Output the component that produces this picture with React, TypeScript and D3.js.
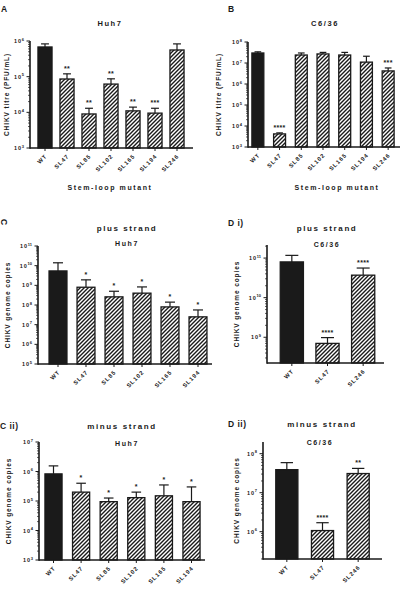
import React from 'react';
import * as d3 from 'd3';

// data
const titreCats = ['WT', 'SL47', 'SL85', 'SL102', 'SL165', 'SL194', 'SL246'];
const huh7Titre = [6.8e5, 8.6e4, 9e3, 6.2e4, 1.1e4, 9.5e3, 5.6e5];
const huh7TitreErr = [8.3e5, 1.2e5, 1.3e4, 8.7e4, 1.4e4, 1.3e4, 8.3e5];
const huh7TitreStars = ['', '**', '**', '**', '**', '***', ''];

const c636Titre = [3e7, 4.2e3, 2.4e7, 2.7e7, 2.4e7, 1.1e7, 4.2e6];
const c636TitreErr = [3.4e7, 4.7e3, 3e7, 3.2e7, 3.2e7, 2.1e7, 5.8e6];
const c636TitreStars = ['', '****', '', '', '', '', '***'];

const huh7Cats = ['WT', 'SL47', 'SL85', 'SL102', 'SL165', 'SL194'];
const huh7Plus = [5.4e9, 8e8, 2.6e8, 4e8, 8e7, 2.5e7];
const huh7PlusErr = [1.4e10, 1.9e9, 5e8, 8.3e8, 1.4e8, 5.6e7];
const huh7PlusStars = ['', '*', '*', '*', '*', '*'];

const huh7Minus = [8.3e5, 2e5, 9.5e4, 1.3e5, 1.5e5, 9.5e4];
const huh7MinusErr = [1.55e6, 4e5, 1.26e5, 2e5, 3.5e5, 3e5];
const huh7MinusStars = ['', '*', '*', '*', '*', '*'];

const c636Cats = ['WT', 'SL47', 'SL246'];
const c636Plus = [8e10, 7e8, 3.7e10];
const c636PlusErr = [1.17e11, 9.8e8, 5.6e10];
const c636PlusStars = ['', '****', '****'];

const c636Minus = [3.9e7, 1.07e6, 3.1e7];
const c636MinusErr = [5.9e7, 1.7e6, 4.2e7];
const c636MinusStars = ['', '****', '**'];

const font = "'Liberation Sans', Arial, sans-serif";
const ink = '#1a1a1a';

type Spec = {
  cats: string[]; values: number[]; errs: number[]; stars: string[];
  domain: [number, number]; yTop: number; yBottom: number;
  axisX: number; xEnd: number; band: [number, number]; pad: number;
  yLabel: string; yLabelX: number;
};

const Panel = ({ s }: { s: Spec }) => {
  const y = d3.scaleLog().domain(s.domain).range([s.yBottom, s.yTop]);
  const x = d3.scaleBand().domain(s.cats).range(s.band)
    .paddingInner(s.pad).paddingOuter(s.pad / 2);
  const lo = Math.log10(s.domain[0]), hi = Math.log10(s.domain[1]);
  const major = d3.range(Math.ceil(lo - 1e-9), Math.floor(hi + 1e-9) + 1);
  const minor: number[] = [];
  for (let e = Math.floor(lo); e <= Math.ceil(hi); e++) {
    for (let k = 2; k <= 9; k++) {
      const v = k * Math.pow(10, e);
      if (v >= s.domain[0] && v <= s.domain[1]) minor.push(v);
    }
  }
  const bw = x.bandwidth();
  const mid = (s.yTop + s.yBottom) / 2;
  return (
    <g>
      {s.cats.map((c, i) => {
        const cx = x(c)! + bw / 2;
        const top = y(s.values[i]);
        const et = y(s.errs[i]);
        return (
          <g key={c}>
            <line x1={cx} x2={cx} y1={top} y2={et} stroke={ink} strokeWidth={1.2} />
            <line x1={cx - bw * 0.28} x2={cx + bw * 0.28} y1={et} y2={et} stroke={ink} strokeWidth={1.2} />
            <rect x={x(c)} y={top} width={bw} height={s.yBottom - top}
              fill={i === 0 ? ink : 'url(#hatch)'} stroke={ink} strokeWidth={1.3} />
            {s.stars[i] && (
              <text x={cx} y={et - 3} textAnchor="middle" fontSize={7} fontWeight="bold"
                fontFamily={font} fill={ink} letterSpacing={0.3}>{s.stars[i]}</text>
            )}
            <line x1={cx} x2={cx} y1={s.yBottom} y2={s.yBottom + 3} stroke={ink} strokeWidth={1} />
            <text transform={`translate(${cx + 2.5},${s.yBottom + 8.5}) rotate(-45)`} textAnchor="end"
              fontSize={5.8} fontWeight="bold" fontFamily={font} fill={ink} letterSpacing={1}>{c}</text>
          </g>
        );
      })}
      {minor.map(v => (
        <line key={'m' + v} x1={s.axisX - 2} x2={s.axisX} y1={y(v)} y2={y(v)} stroke={ink} strokeWidth={0.7} />
      ))}
      {major.map(e => (
        <g key={'t' + e}>
          <line x1={s.axisX - 3.5} x2={s.axisX} y1={y(Math.pow(10, e))} y2={y(Math.pow(10, e))} stroke={ink} strokeWidth={1} />
          <text x={s.axisX - 6} y={y(Math.pow(10, e)) + 2} textAnchor="end" fontSize={5.5}
            fontWeight="bold" fontFamily={font} fill={ink}>
            <tspan letterSpacing={0.8}>10</tspan>
            <tspan fontSize={4} dy={-2.5}>{e}</tspan>
          </text>
        </g>
      ))}
      <line x1={s.axisX} x2={s.axisX} y1={s.yTop} y2={s.yBottom + 0.75} stroke={ink} strokeWidth={1.6} />
      <line x1={s.axisX} x2={s.xEnd} y1={s.yBottom} y2={s.yBottom} stroke={ink} strokeWidth={1.6} />
      <text transform={`translate(${s.yLabelX},${mid}) rotate(-90)`} textAnchor="middle" fontSize={6.5}
        fontWeight="bold" fontFamily={font} fill={ink} letterSpacing={0.9}>{s.yLabel}</text>
    </g>
  );
};

const Txt = ({ x, y, t, size = 7.5, anchor = 'middle', ls = 1.6 }:
  { x: number; y: number; t: string; size?: number; anchor?: string; ls?: number }) => (
  <text x={x} y={y} textAnchor={anchor as any} fontSize={size} fontWeight="bold"
    fontFamily={font} fill={ink} letterSpacing={ls}>{t}</text>
);

const panelA: Spec = {
  cats: titreCats, values: huh7Titre, errs: huh7TitreErr, stars: huh7TitreStars,
  domain: [1e3, 1e6], yTop: 41, yBottom: 148, axisX: 30, xEnd: 193, band: [34, 188], pad: 0.36,
  yLabel: 'CHIKV titre (PFU/mL)', yLabelX: 9,
};
const panelB: Spec = {
  cats: titreCats, values: c636Titre, errs: c636TitreErr, stars: c636TitreStars,
  domain: [1e3, 1e8], yTop: 42, yBottom: 147, axisX: 248, xEnd: 400, band: [247, 399], pad: 0.45,
  yLabel: 'CHIKV titre (PFU/mL)', yLabelX: 221,
};
const panelCi: Spec = {
  cats: huh7Cats, values: huh7Plus, errs: huh7PlusErr, stars: huh7PlusStars,
  domain: [1e5, 1e11], yTop: 246, yBottom: 364, axisX: 38, xEnd: 212, band: [44, 212], pad: 0.36,
  yLabel: 'CHIKV genome copies', yLabelX: 10,
};
const panelDi: Spec = {
  cats: c636Cats, values: c636Plus, errs: c636PlusErr, stars: c636PlusStars,
  domain: [Math.pow(10, 8.35), Math.pow(10, 11.33)], yTop: 245, yBottom: 363, axisX: 267, xEnd: 384,
  band: [274, 381], pad: 0.35, yLabel: 'CHIKV genome copies', yLabelX: 239,
};
const panelCii: Spec = {
  cats: huh7Cats, values: huh7Minus, errs: huh7MinusErr, stars: huh7MinusStars,
  domain: [1e3, 1e7], yTop: 442, yBottom: 560, axisX: 39, xEnd: 205, band: [39.7, 205.3], pad: 0.38,
  yLabel: 'CHIKV genome copies', yLabelX: 11,
};
const panelDii: Spec = {
  cats: c636Cats, values: c636Minus, errs: c636MinusErr, stars: c636MinusStars,
  domain: [Math.pow(10, 5.3), Math.pow(10, 8.3)], yTop: 442, yBottom: 559, axisX: 263, xEnd: 382,
  band: [269, 376], pad: 0.38, yLabel: 'CHIKV genome copies', yLabelX: 239,
};

const App = () => (
  <svg width={401} height={597} style={{ position: 'absolute', left: 0, top: 0, background: '#fff' }}>
    <defs>
      <pattern id="hatch" patternUnits="userSpaceOnUse" width={4} height={4}>
        <rect width={4} height={4} fill="#fff" />
        <path d="M-1,1 l2,-2 M0,4 l4,-4 M3,5 l2,-2" stroke={ink} strokeWidth={1.4} />
      </pattern>
    </defs>
    <Txt x={1} y={12} t="A" size={8.5} anchor="start" ls={0} />
    <Txt x={110} y={26} t="Huh7" />
    <Panel s={panelA} />
    <Txt x={110} y={190} t="Stem-loop mutant" size={7} />

    <Txt x={228} y={12} t="B" size={8.5} anchor="start" ls={0} />
    <Txt x={325} y={26} t="C6/36" />
    <Panel s={panelB} />
    <Txt x={337} y={190} t="Stem-loop mutant" size={7} />

    <text transform="translate(1,222) rotate(90)" textAnchor="middle" fontSize={8.5} fontWeight="bold"
      fontFamily={font} fill={ink}>C</text>
    <Txt x={127} y={231} t="plus strand" size={8} />
    <Txt x={127} y={246} t="Huh7" size={7} />
    <Panel s={panelCi} />

    <Txt x={228} y={226} t="D i)" size={8.5} anchor="start" ls={0.5} />
    <Txt x={327} y={231} t="plus strand" size={8} />
    <Txt x={327} y={247} t="C6/36" size={7} />
    <Panel s={panelDi} />

    <Txt x={0} y={429} t="C ii)" size={8.5} anchor="start" ls={0.5} />
    <Txt x={122} y={429} t="minus strand" size={8} />
    <Txt x={127} y={446} t="Huh7" size={7} />
    <Panel s={panelCii} />

    <Txt x={228} y={427} t="D ii)" size={8.5} anchor="start" ls={0.5} />
    <Txt x={322} y={427} t="minus strand" size={8} />
    <Txt x={320} y={445} t="C6/36" size={7} />
    <Panel s={panelDii} />
  </svg>
);

export default App;
